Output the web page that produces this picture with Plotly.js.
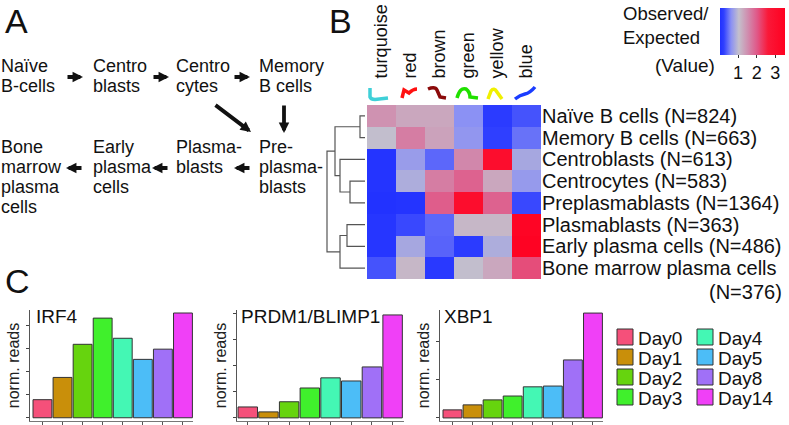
<!DOCTYPE html>
<html><head><meta charset="utf-8">
<script src="https://cdn.plot.ly/plotly-3.0.1.min.js"></script>
<style>html,body{margin:0;padding:0;background:#fff}</style>
</head><body>
<div id="chart" style="width:789px;height:425px"></div>
<script>
// ---------- DATA ----------
const modules = ['turquoise','red','brown','green','yellow','blue'];
const moduleColors = ['#3fd0d8','#ff1010','#8b0a0a','#20e000','#f0f000','#1a3cff'];
const cellTypes = ['Naïve B cells','Memory B cells','Centroblasts','Centrocytes','Preplasmablasts','Plasmablasts','Early plasma cells','Bone marrow plasma cells'];
const cellCounts = [824,663,613,583,1364,363,486,376];
// observed / expected (rows = cell types, cols = modules)
const obsNaive   = [1.45,1.25,1.25,0.60,0.15,0.30];
const obsMemory  = [1.00,1.65,1.30,0.65,0.20,0.45];
const obsCB      = [0.05,0.70,0.40,1.55,3.00,0.80];
const obsCC      = [0.05,0.85,1.65,1.90,1.25,0.68];
const obsPrePB   = [0.02,0.05,1.95,3.00,1.90,0.25];
const obsPB      = [0.08,0.25,0.40,1.10,1.10,3.30];
const obsEarlyPC = [0.08,0.80,0.38,0.15,0.85,3.40];
const obsBMPC    = [0.30,1.10,0.12,1.00,1.25,2.10];
// dendrogram merges: [childA, childB, height]; leaves 0..7, new nodes 8..
const dendroMerges = [[0,1,5],[3,4,15],[2,9,25],[5,6,18],[8,10,30],[11,7,25],[12,13,38]];

const days = ['Day0','Day1','Day2','Day3','Day4','Day5','Day8','Day14'];
const dayColors = ['#f5507a','#c98f0a','#66d40e','#40f02c','#44f7b4','#4cbdf7','#a070f7','#f040f7'];
const genes = ['IRF4','PRDM1/BLIMP1','XBP1'];
const irf4  = [78,174,317,430,343,252,296,452];
const prdm1 = [42,23,62,115,154,142,196,396];
const xbp1  = [21,34,47,57,81,83,151,273];

const stagesTop = [['Naïve','B-cells'],['Centro','blasts'],['Centro','cytes'],['Memory','B cells']];
const stagesBottom = [['Bone','marrow','plasma','cells'],['Early','plasma','cells'],['Plasma-','blasts'],['Pre-','plasma-','blasts']];

// ---------- HELPERS ----------
const W = 789, H = 425;
const px = x => x / W;
const py = y => 1 - y / H;
const FONT = 'Liberation Sans, Arial, Helvetica, sans-serif';

const traces = [];
const annotations = [];
const shapes = [];

// ---------- HEATMAP ----------
const z = [obsNaive, obsMemory, obsCB, obsCC, obsPrePB, obsPB, obsEarlyPC, obsBMPC];
const rowIdx = cellTypes.map((_, i) => i);
const colIdx = modules.map((_, i) => i);
const rowText = cellTypes.map((c, i) => i === cellTypes.length - 1 ? c : c + ' (N=' + cellCounts[i] + ')');
traces.push({
  type: 'heatmap', z: z, x: colIdx, y: rowIdx, xaxis: 'x4', yaxis: 'y4',
  zmin: 0, zmax: 3.5,
  colorscale: [[0,'#2030ff'],[0.06,'#3040ff'],[0.17,'#8a90f4'],[0.29,'#c4c0cc'],[0.43,'#d08cae'],[0.57,'#e05888'],[0.74,'#fa1838'],[1,'#ff0020']],
  colorbar: {orientation:'h', x: px(752), xanchor:'center', y: py(8), yanchor:'top',
    len: 65, lenmode:'pixels', thickness: 47, thicknessmode:'pixels', xpad:0, ypad:0,
    outlinewidth:0, tickvals:[1,2,3], ticks:'outside', ticklen:3, tickcolor:'#333',
    tickfont:{size:18, color:'#111', family:FONT}},
  hoverinfo: 'z'
});

// ---------- DENDROGRAM ----------
const nodeY = rowIdx.slice(), nodeH = rowIdx.map(() => 0);
const dx = [], dy = [];
dendroMerges.forEach(m => {
  const [a, b, h] = m;
  dx.push(nodeH[a], h, h, nodeH[b], null);
  dy.push(nodeY[a], nodeY[a], nodeY[b], nodeY[b], null);
  nodeY.push((nodeY[a] + nodeY[b]) / 2);
  nodeH.push(h);
});
traces.push({type:'scatter', mode:'lines', x: dx, y: dy, xaxis:'x5', yaxis:'y5',
  line:{color:'#555', width:1.2}, hoverinfo:'skip', showlegend:false});

// ---------- BARS ----------
const geneValues = [irf4, prdm1, xbp1];
const barDom = [
  {x:[30,193], xr:[-0.62,7.5], yr:[-14,465], tx:34},
  {x:[237,404], xr:[-0.52,7.55], yr:[-12,415], tx:239},
  {x:[440,603], xr:[-0.62,7.5], yr:[-8,281], tx:442}
];
geneValues.forEach((vals, g) => {
  const s = g === 0 ? '' : String(g + 1);
  traces.push({type:'bar', x: days, y: vals, xaxis:'x' + s, yaxis:'y' + s,
    marker:{color: dayColors, line:{color:'#333', width:1}}, showlegend:false,
    hovertemplate: genes[g] + ' %{x}: %{y}<extra></extra>'});
  annotations.push({text: genes[g], xref:'paper', yref:'paper', x: px(barDom[g].tx), y: py(316),
    xanchor:'left', yanchor:'middle', showarrow:false, font:{size:19, color:'#111'}});
});

// manual legend built from days / dayColors
days.forEach((d, i) => {
  const col = Math.floor(i / 4), row = i % 4;
  const x0 = 617 + col * 80, yc = 337 + row * 20;
  shapes.push({type:'rect', xref:'paper', yref:'paper', x0: px(x0), x1: px(x0 + 16),
    y0: py(yc + 8), y1: py(yc - 8), fillcolor: dayColors[i], line:{color:'#333', width:1}});
  annotations.push({text: d, xref:'paper', yref:'paper', x: px(x0 + 19), y: py(yc + 1),
    xanchor:'left', yanchor:'middle', showarrow:false, font:{size:19, color:'#111'}});
});

// ---------- PANEL A ----------
const colX = [0, 92, 175, 258];
stagesTop.forEach((lines, c) => lines.forEach((t, k) => annotations.push({text:t, xref:'paper', yref:'paper',
  x: px(colX[c] - 1), y: py(66 + 19.5 * k), xanchor:'left', yanchor:'middle', showarrow:false, font:{size:18, color:'#111'}})));
stagesBottom.forEach((lines, c) => lines.forEach((t, k) => annotations.push({text:t, xref:'paper', yref:'paper',
  x: px(colX[c] - 1), y: py(147 + 20 * k), xanchor:'left', yanchor:'middle', showarrow:false, font:{size:18, color:'#111'}})));
const arrows = [[66,77,83,77],[152,77,169,77],[233,77,250,77],[214,104,251,132],[284,104,284,133],[251,168,234,168],[169,168,152,168],[83,168,66,168]];
arrows.forEach(a => annotations.push({text:'', xref:'paper', yref:'paper', x: px(a[2]), y: py(a[3]),
  ax: a[0] - a[2], ay: a[1] - a[3], showarrow:true, arrowhead:2, arrowsize:0.55, arrowwidth:3.8, arrowcolor:'#111', standoff:0}));

// panel letters
[['A',3,21],['B',327,21],['C',3,281]].forEach(p => annotations.push({text:p[0], xref:'paper', yref:'paper',
  x: px(p[1]), y: py(p[2]), xanchor:'left', yanchor:'middle', showarrow:false, font:{size:34, color:'#111'}}));

// colorbar labels
annotations.push({text:'Observed/<br>Expected', xref:'paper', yref:'paper', x: px(621), y: py(25), xanchor:'left', yanchor:'middle', align:'left', showarrow:false, font:{size:18.5, color:'#111'}});
annotations.push({text:'(Value)', xref:'paper', yref:'paper', x: px(717), y: py(65), xanchor:'right', yanchor:'middle', showarrow:false, font:{size:19, color:'#111'}});
annotations.push({text:'(N=' + cellCounts[7] + ')', xref:'paper', yref:'paper', x: px(784), y: py(292), xanchor:'right', yanchor:'middle', showarrow:false, font:{size:20, color:'#111'}});

// module squiggles (swatches for module colours)
const squig = [
  [['M',370,88],['L',370,97],['Q',371,99.5,375,99.5],['L',388,98]],
  [['M',402,98],['L',404,90],['L',409,93],['Q',413,89,417,89]],
  [['M',428,89],['Q',435,86,437,90],['L',440,97],['L',446,98]],
  [['M',457,98],['Q',460,87,466,89],['Q',470,92,470,97],['L',478,98]],
  [['M',488,99],['L',491,91],['Q',494,87,497,92],['L',502,99]],
  [['M',515,99],['Q',520,95,525,94],['Q',530,93,535,87]]
];
squig.forEach((seg, i) => {
  const path = seg.map(s => s[0] + ' ' + s.slice(1).map((v, j) => j % 2 === 0 ? px(v).toFixed(5) : py(v).toFixed(5)).join(',')).join(' ');
  shapes.push({type:'path', xref:'paper', yref:'paper', path: path, line:{color: moduleColors[i], width:3.5}});
});

// ---------- LAYOUT ----------
const layout = {
  width: W, height: H, margin:{l:0, r:0, t:0, b:0},
  paper_bgcolor:'#fff', plot_bgcolor:'rgba(0,0,0,0)',
  font:{family: FONT, color:'#111'},
  showlegend:false, bargap:0.06,
  annotations: annotations, shapes: shapes,
  xaxis4:{domain:[px(367), px(541)], anchor:'y4', side:'top', range:[-0.5,5.5], tickvals: colIdx, ticktext: modules,
    tickangle:-90, ticks:'outside', ticklen:22, tickcolor:'rgba(0,0,0,0)', tickfont:{size:18, color:'#111'},
    showgrid:false, zeroline:false, showline:false, fixedrange:true},
  yaxis4:{domain:[py(279), py(105)], anchor:'x4', side:'right', range:[7.5,-0.5], tickvals: rowIdx, ticktext: rowText,
    ticks:'', tickfont:{size:20, color:'#111'}, showgrid:false, zeroline:false, showline:false, fixedrange:true},
  xaxis5:{domain:[px(318), px(366)], anchor:'y5', range:[47,-1], visible:false, fixedrange:true},
  yaxis5:{domain:[py(279), py(105)], anchor:'x5', range:[7.5,-0.5], visible:false, fixedrange:true}
};
barDom.forEach((d, g) => {
  const s = g === 0 ? '' : String(g + 1);
  layout['xaxis' + s] = {domain:[px(d.x[0]), px(d.x[1])], anchor:'y' + s, range:d.xr, type:'category',
    showline:true, linecolor:'#777', linewidth:1, ticks:'outside', ticklen:3, tickcolor:'#555',
    showticklabels:false, showgrid:false, zeroline:false, fixedrange:true};
  layout['yaxis' + s] = {domain:[py(421), py(310)], anchor:'x' + s, range:d.yr,
    showline:true, linecolor:'#555', linewidth:1, ticks:'outside', ticklen:3, tickcolor:'#444',
    tick0:0, dtick:100, showticklabels:false, showgrid:false, zeroline:false, fixedrange:true,
    title:{text:'norm. reads', font:{size:16, color:'#222'}, standoff:2}};
});

Plotly.newPlot('chart', traces, layout, {displayModeBar:false, staticPlot:true});
</script>
</body></html>
